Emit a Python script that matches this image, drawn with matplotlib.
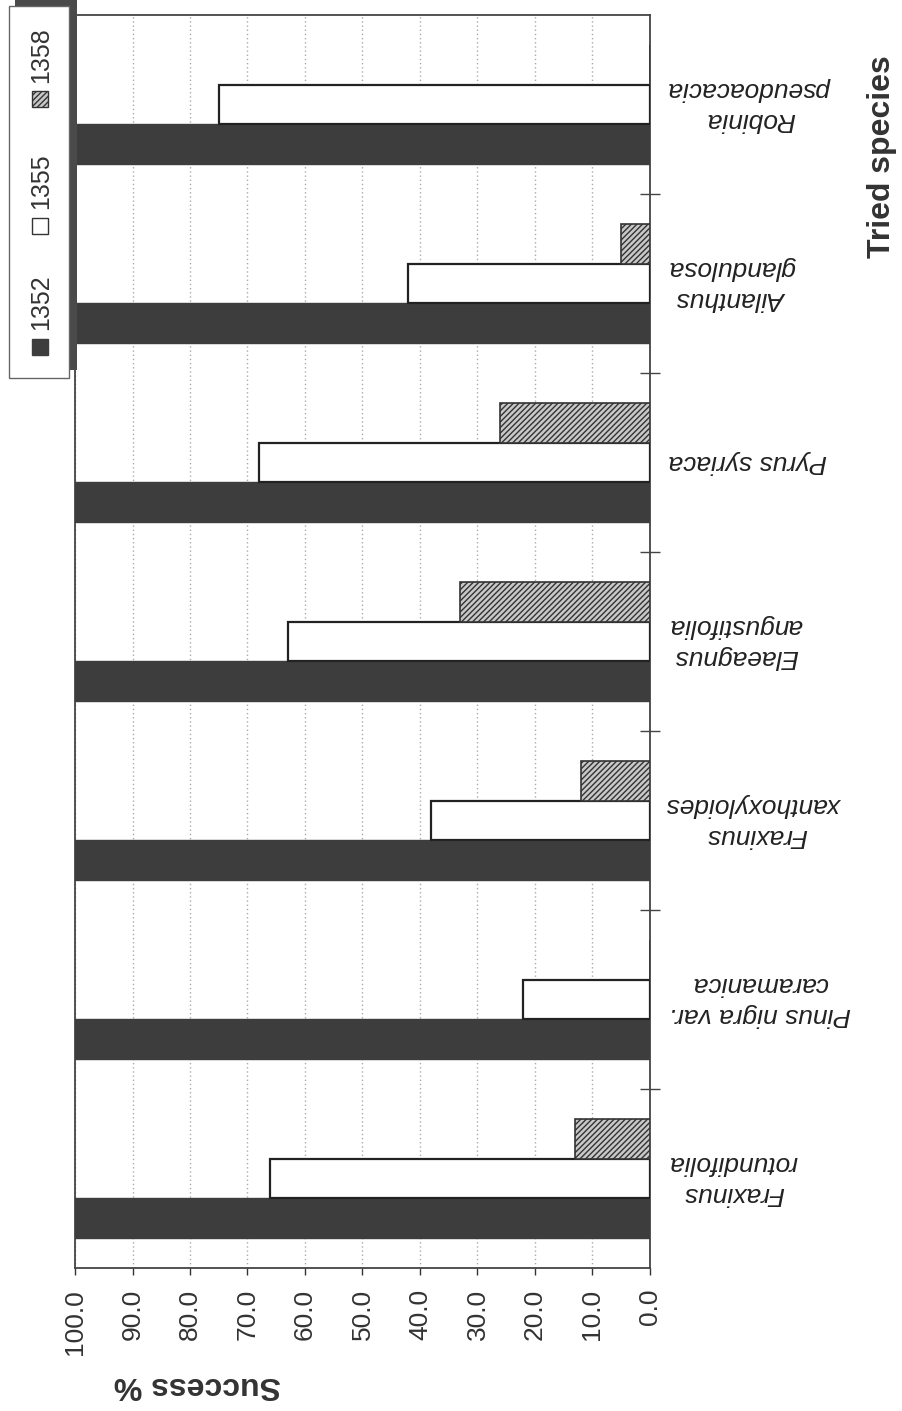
import matplotlib
matplotlib.use('Agg')
import matplotlib.pyplot as plt
from matplotlib.patches import Rectangle
import numpy as np

plt.rcParams['font.family'] = ['Liberation Sans', 'DejaVu Sans']

# Species from bottom to top of the chart
species = ['Fraxinus\nrotundifolia', 'Pinus nigra var.\ncaramanica', 'Fraxinus\nxanthoxyloides',
           'Elaeagnus\nangustifolia', 'Pyrus syriaca', 'Ailanthus\nglandulosa', 'Robinia\npseudoacacia']
years = ['1352', '1355', '1358']
s1352 = [100, 100, 100, 100, 100, 100, 100]
s1355 = [66, 22, 38, 63, 68, 42, 75]
s1358 = [13, 0, 12, 33, 26, 5, 0]
value_ticks = [0, 10, 20, 30, 40, 50, 60, 70, 80, 90, 100]

W, H = 903, 1411
fig = plt.figure(figsize=(W / 100, H / 100), dpi=100)
fig.patch.set_facecolor('white')

def fx(x):
    return x / W

def fy(y):
    return 1 - y / H

ax = fig.add_axes([fx(75), fy(1268), 575 / W, 1253 / H])

pos = np.arange(len(species))
h = 0.222
dark = '#3d3d3d'
ax.barh(pos - h, s1352, height=h, color=dark, edgecolor=dark, lw=1, zorder=3)
ax.barh(pos, s1355, height=h, color='white', edgecolor='#222222', lw=1.6, zorder=3)
ax.barh(pos + h, s1358, height=h, color='#c8c8c8', edgecolor='#333333', hatch='//////', lw=1.2, zorder=3)

ax.set_xlim(100, 0)
ax.set_ylim(-0.5, len(species) - 0.5)

ax.set_xticks(value_ticks)
ax.set_xticklabels([f'{v:.1f}' for v in value_ticks], rotation=90, fontsize=19, color='#222222')
ax.tick_params(axis='x', direction='out', length=5, width=1, pad=10, colors='#333333')
ax.xaxis.grid(True, linestyle=(0, (1, 2)), color='#aaaaaa', lw=1, zorder=0)

ax.yaxis.tick_right()
ax.set_yticks(pos[:-1] + 0.5)
ax.set_yticklabels([])
ax.tick_params(axis='y', direction='inout', length=14, width=1, colors='#444444')

for sp in ax.spines.values():
    sp.set_color('#444444')
    sp.set_linewidth(1.3)

# species names, upside down, to the right of the zero line
for i, name in enumerate(species):
    ax.text(1.033, i, name, transform=ax.get_yaxis_transform(), rotation=180,
            ha='left', va='center', multialignment='center', fontsize=19,
            style='italic', color='#222222', linespacing=1.4)

fig.text(fx(882), fy(157), 'Tried species', rotation=90, ha='center', va='center',
         fontsize=23, fontweight='bold', color='#333333')
fig.text(fx(197), fy(1385), 'Success %', rotation=180, ha='center', va='center',
         fontsize=23, fontweight='bold', color='#333333')

# legend box with shadow
fig.add_artist(Rectangle((fx(15), fy(370)), 62 / W, 370 / H, transform=fig.transFigure,
                         facecolor='#4a4a4a', edgecolor='none'))
fig.add_artist(Rectangle((fx(9), fy(378)), 60 / W, 372 / H, transform=fig.transFigure,
                         facecolor='white', edgecolor='#666666', lw=1))
legend_y = [(347, 302), (226, 181), (99, 55)]
styles = [dict(facecolor=dark, edgecolor=dark, hatch=None),
          dict(facecolor='white', edgecolor='#333333', hatch=None),
          dict(facecolor='#c8c8c8', edgecolor='#333333', hatch='//////')]
for lab, (my, ty), st in zip(years, legend_y, styles):
    fig.add_artist(Rectangle((fx(32), fy(my + 8)), 16 / W, 16 / H, transform=fig.transFigure,
                             lw=1, **st))
    fig.text(fx(41), fy(ty), lab, rotation=90, ha='center', va='center',
             fontsize=18, color='#333333')

fig.savefig('out.png', dpi=100)
